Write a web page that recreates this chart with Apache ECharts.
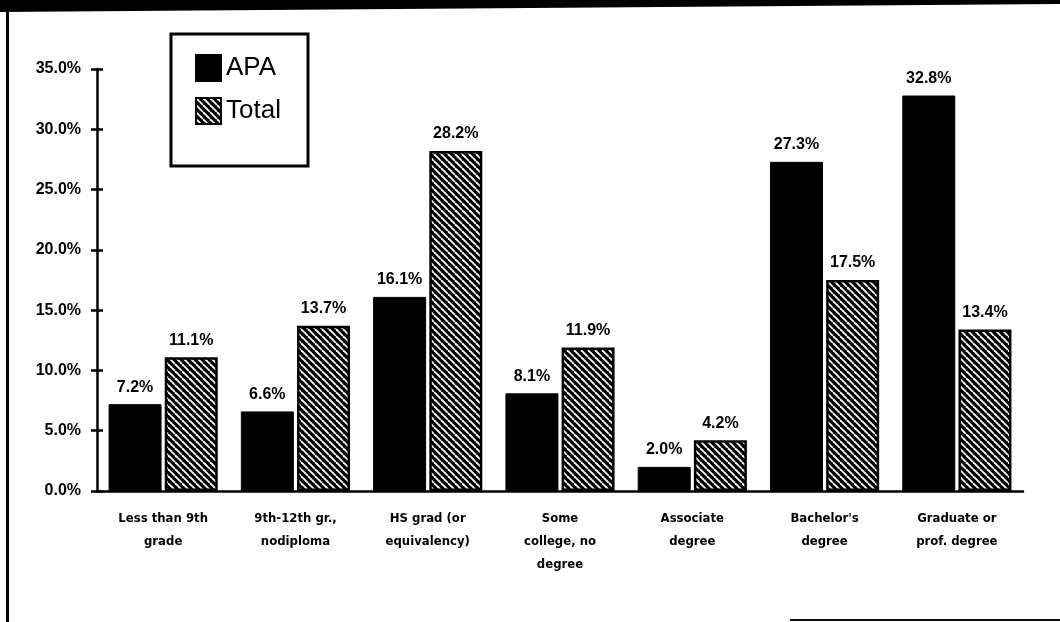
<!DOCTYPE html>
<html>
<head>
<meta charset="utf-8">
<script src="https://cdn.jsdelivr.net/npm/echarts@6/dist/echarts.min.js"></script>
<style>
  html, body { margin: 0; padding: 0; background: #fff; }
  #chart { width: 1060px; height: 622px; }
</style>
</head>
<body>
<div id="chart"></div>
<script>
const categories = [
    'Less than 9th\ngrade',
    '9th-12th gr.,\nnodiploma',
    'HS grad (or\nequivalency)',
    'Some\ncollege, no\ndegree',
    'Associate\ndegree',
    "Bachelor's\ndegree",
    'Graduate or\nprof. degree'
];
const apaValues = [7.2, 6.6, 16.1, 8.1, 2.0, 27.3, 32.8];
const totalValues = [11.1, 13.7, 28.2, 11.9, 4.2, 17.5, 13.4];
const seriesNames = ['APA', 'Total'];

// hatch: black with thin white backslash lines
function makeHatch() {
    const size = 7;
    const c = document.createElement('canvas');
    c.width = size;
    c.height = size;
    const ctx = c.getContext('2d');
    ctx.fillStyle = '#000';
    ctx.fillRect(0, 0, size, size);
    ctx.strokeStyle = '#fff';
    ctx.lineWidth = 1.8;
    [-size, 0, size].forEach(off => {
        ctx.beginPath();
        ctx.moveTo(off, 0);
        ctx.lineTo(off + size, size);
        ctx.stroke();
    });
    return c;
}

const hatch = { image: makeHatch(), repeat: 'repeat' };
const pctLabel = (v) => v.toFixed(1) + '%';

const myChart = echarts.init(document.getElementById('chart'));

const labelStyle = {
    show: true,
    position: 'top',
    distance: 9,
    color: '#000',
    fontFamily: 'Liberation Sans',
    fontWeight: 'bold',
    fontSize: 16,
    formatter: (p) => pctLabel(p.value)
};

const option = {
    backgroundColor: '#fff',
    animation: false,
    grid: { left: 97, right: 37, top: 69, bottom: 131 },
    legend: {
        data: seriesNames,
        orient: 'vertical',
        left: 190,
        top: 49,
        itemWidth: 25,
        itemHeight: 26,
        itemGap: 15,
        icon: 'rect',
        textStyle: { fontFamily: 'Liberation Sans', fontSize: 26, color: '#000' }
    },
    xAxis: [{
        type: 'category',
        data: categories,
        axisLine: { lineStyle: { color: '#000', width: 2.5 } },
        axisTick: { length: 7, lineStyle: { color: '#000', width: 2.5 } },
        axisLabel: {
            color: '#000',
            fontFamily: 'DejaVu Sans Condensed',
            fontWeight: 'bold',
            fontSize: 13,
            lineHeight: 23,
            margin: 16,
            interval: 0
        }
    }, {
        type: 'category',
        data: categories,
        position: 'bottom',
        axisLine: { show: false },
        axisTick: { inside: true, length: 6, lineStyle: { color: '#000', width: 2.5 } },
        axisLabel: { show: false }
    }],
    yAxis: [{
        type: 'value',
        min: 0,
        max: 35,
        interval: 5,
        splitLine: { show: false },
        axisLine: { show: true, lineStyle: { color: '#000', width: 2.5 } },
        axisTick: { show: true, length: 6, lineStyle: { color: '#000', width: 2.5 } },
        axisLabel: {
            color: '#000',
            fontFamily: 'Liberation Sans',
            fontWeight: 'bold',
            fontSize: 16,
            margin: 16,
            formatter: pctLabel
        }
    }, {
        type: 'value',
        min: 0,
        max: 35,
        interval: 5,
        position: 'left',
        splitLine: { show: false },
        axisLine: { show: false },
        axisTick: { show: true, inside: true, length: 6, lineStyle: { color: '#000', width: 2.5 } },
        axisLabel: { show: false }
    }],
    series: [{
        name: seriesNames[0],
        type: 'bar',
        data: apaValues,
        barWidth: 53,
        barGap: '6%',
        itemStyle: { color: '#000', borderColor: '#000', borderWidth: 1 },
        label: labelStyle
    }, {
        name: seriesNames[1],
        type: 'bar',
        data: totalValues,
        barWidth: 53,
        itemStyle: { color: hatch, borderColor: '#000', borderWidth: 2.5 },
        label: labelStyle
    }],
    graphic: [
        // scanned frame: black band on top, rule on the left, stub at the bottom right
        { type: 'polygon', shape: { points: [[0, 0], [1060, 0], [1060, 4], [0, 12]] }, style: { fill: '#000' } },
        { type: 'rect', shape: { x: 6, y: 0, width: 3, height: 622 }, style: { fill: '#000' } },
        { type: 'rect', shape: { x: 790, y: 619, width: 270, height: 2 }, style: { fill: '#111' } },
        // legend box
        { type: 'rect', shape: { x: 171, y: 34, width: 137, height: 132 }, style: { fill: 'none', stroke: '#000', lineWidth: 3 } }
    ]
};

myChart.setOption(option);
</script>
</body>
</html>
